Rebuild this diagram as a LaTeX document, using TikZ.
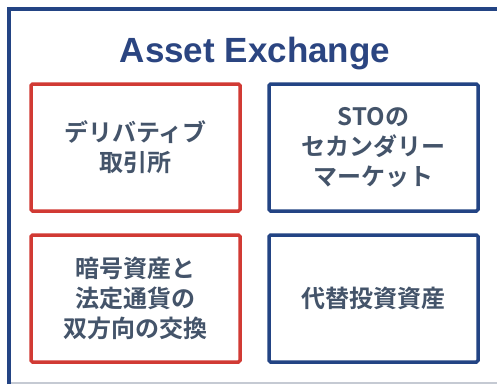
\documentclass[tikz,border=0pt]{standalone}
\usepackage{fontspec}
\setmainfont{Liberation Sans}
\newfontfamily\jpfont{Noto Sans CJK JP}[BoldFont={Noto Sans CJK JP Bold}]
\definecolor{frameblue}{HTML}{234484}
\definecolor{boxred}{HTML}{D13A34}
\definecolor{titleblue}{HTML}{2B4581}
\definecolor{txtgray}{HTML}{44546A}
\definecolor{linegray}{HTML}{C5CAD3}
\begin{document}
\begin{tikzpicture}[x=1pt,y=-1pt,
  cell/.style={draw, line width=3.5pt, rounded corners=1.5pt, minimum width=209pt, minimum height=127pt,
    align=center, text=txtgray, inner sep=0pt,
    font=\jpfont\bfseries\fontsize{24}{30}\selectfont},
  redcell/.style={cell, draw=boxred},
  bluecell/.style={cell, draw=frameblue}]
\useasboundingbox (0,0) rectangle (497,384);
\fill[white] (0,0) rectangle (497,384);
\coordinate (tl) at (9,9);
\coordinate (tr) at (497,9);
\coordinate (bl) at (9,384);
\coordinate (gl) at (10,383);
\coordinate (gr) at (497,383);
\draw[linegray, line width=1.5pt] (gl) -- (gr);
\draw[frameblue, line width=3.5pt] (bl) -- (tl) -- (tr);
\node[anchor=base, text=titleblue, font=\bfseries\fontsize{35}{40}\selectfont] (title) at (255,62) {Asset Exchange};
\node[redcell] (deriv) at (135.5,147.5) {デリバティブ\\取引所};
\node[bluecell] (sto) at (373.5,147.5) {STOの\\セカンダリー\\マーケット};
\node[redcell] (crypto) at (135.5,298.5) {\raisebox{-3pt}{\parbox{200pt}{\centering 暗号資産と\\法定通貨の\\双方向の交換}}};
\node[bluecell] (alt) at (373.5,298.5) {代替投資資産};
\end{tikzpicture}
\end{document}
